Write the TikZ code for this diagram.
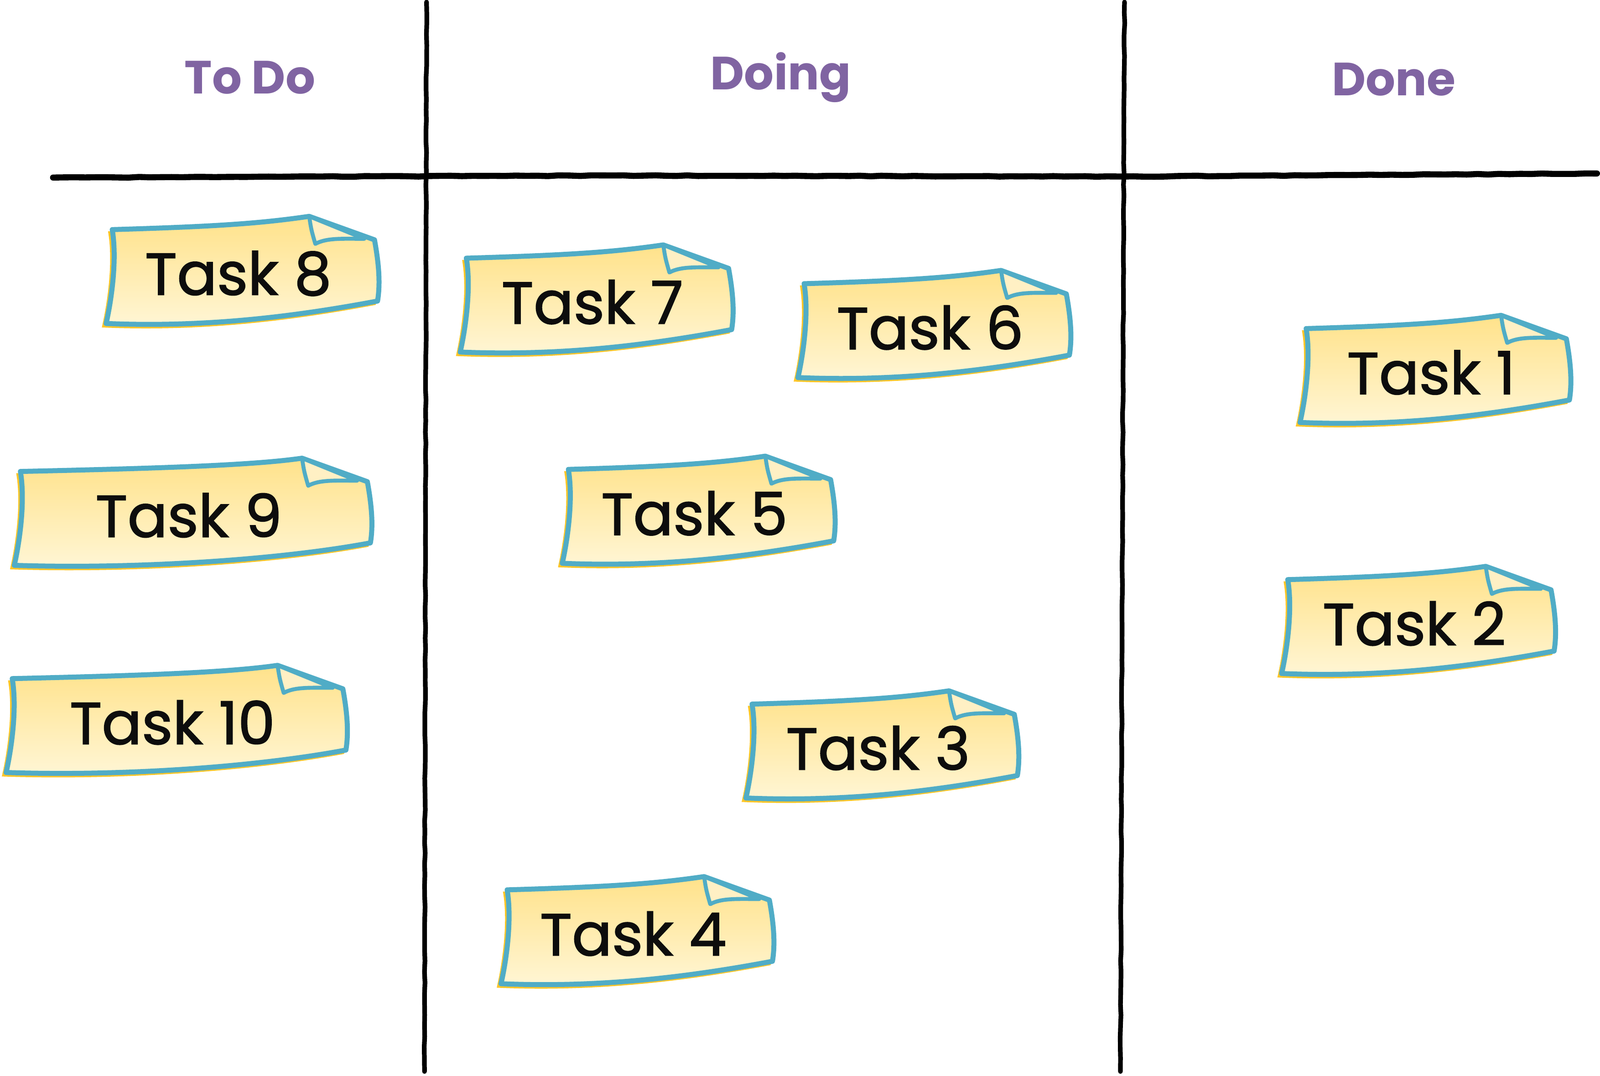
\documentclass[tikz,border=0pt]{standalone}
\usepackage{fontspec}
\setmainfont{Poppins}
\newfontfamily\notefont{Poppins}[FakeBold=1.6]
\usetikzlibrary{decorations.pathmorphing}

\definecolor{postitblue}{RGB}{80,172,198}
\definecolor{postitorange}{RGB}{255,198,40}
\definecolor{postittop}{RGB}{255,226,138}
\definecolor{postitbottom}{RGB}{255,246,214}
\definecolor{postitflap}{RGB}{255,240,196}
\definecolor{headerpurple}{RGB}{128,100,162}

\tikzset{
  board/.style={line width=2.6pt,line cap=round,decorate,
    decoration={random steps,segment length=6pt,amplitude=0.2pt}},
  header/.style={text=headerpurple,font=\bfseries\fontsize{26}{30}\selectfont},
  postit/.style={draw=postitblue,line width=2.8pt,line join=round,
    top color=postittop,bottom color=postitbottom,
    preaction={draw=postitorange,line width=1.3pt,
      transform canvas={shift={(-1.6pt,-1.6pt)}}}},
  postit flap/.style={draw=postitblue,line width=2.2pt,line join=round,fill=postitflap},
  postit text/.style={text=black!95,font=\notefont\fontsize{33}{36}\selectfont}
}

\newcommand{\postit}[5]{
  \begin{scope}[shift={(#2,#3)}]
    \draw[postit] (0,0) .. controls ({0.4*#4},-3) and ({#4-110},-6) .. ({#4-62},-13)
      -- ({#4+2},10) .. controls ({#4+6},32) and ({#4+8},52) .. ({#4+5},70)
      .. controls ({#4-80},86) and ({0.35*#4},96) .. (-6,92)
      .. controls (-1,70) and (5,30) .. (0,0) -- cycle;
    \draw[postit flap] ({#4-62},-13) .. controls ({#4-60},0) .. ({#4-56},14)
      .. controls ({#4-45},8) and ({#4-30},9) .. ({#4-8},9) -- cycle;
    \node[postit text] (#1) at ({#4/2-4},43) {#5};
  \end{scope}
}

\begin{document}
\begin{tikzpicture}[x=0.02cm,y=-0.02cm]
  \useasboundingbox (0,0) rectangle (1568,1054);

  \draw[board] (418,2) -- (417,520) -- (416,1050);
  \draw[board] (1102,2) -- (1100,520) -- (1098,1050);
  \draw[board,line width=3.4pt] (52,174) -- (600,172) -- (1100,173) -- (1565,170);

  \node[header] (todo) at (245,76) {To Do};
  \node[header] (doing) at (765,76) {Doing};
  \node[header] (done) at (1366,78) {Done};

  \postit{task8}{110}{225}{255}{Task 8}
  \postit{task7}{457}{253}{255}{Task 7}
  \postit{task6}{788}{278}{255}{Task 6}
  \postit{task1}{1280}{322}{253}{Task 1}
  \postit{task9}{20}{462}{338}{Task 9}
  \postit{task5}{557}{460}{255}{Task 5}
  \postit{task2}{1262}{568}{256}{Task 2}
  \postit{task10}{12}{665}{322}{Task 10}
  \postit{task3}{737}{690}{255}{Task 3}
  \postit{task4}{497}{872}{255}{Task 4}
\end{tikzpicture}
\end{document}
